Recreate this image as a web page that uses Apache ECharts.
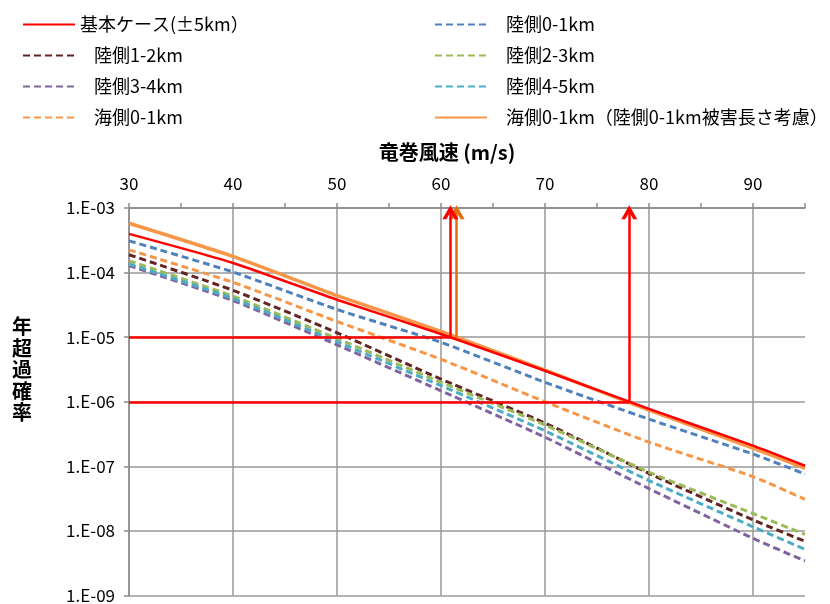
<!DOCTYPE html>
<html>
<head>
<meta charset="utf-8">
<script src="https://cdn.jsdelivr.net/npm/echarts@6/dist/echarts.min.js"></script>
<style>html,body{margin:0;padding:0;background:#fff}#c{width:830px;height:604px}</style>
</head>
<body>
<div id="c"></div>
<script>
// wind speed (m/s)
const speeds = [30, 40, 50, 60, 70, 80, 90, 95];
// annual exceedance probability per series
const baseCase   = [3.98e-4, 1.41e-4, 3.80e-5, 1.12e-5, 3.02e-6, 7.76e-7, 2.09e-7, 1.02e-7];
const land01     = [3.10e-4, 1.02e-4, 2.68e-5, 8.32e-6, 2.00e-6, 5.37e-7, 1.55e-7, 7.59e-8];
const land12     = [1.89e-4, 5.32e-5, 1.17e-5, 2.24e-6, 4.68e-7, 7.76e-8, 1.48e-8, 6.92e-9];
const land23     = [1.52e-4, 4.31e-5, 9.55e-6, 2.00e-6, 4.37e-7, 8.13e-8, 1.86e-8, 8.83e-9];
const land34     = [1.28e-4, 3.69e-5, 7.59e-6, 1.48e-6, 2.82e-7, 4.52e-8, 7.67e-9, 3.43e-9];
const land45     = [1.36e-4, 3.96e-5, 8.51e-6, 1.77e-6, 3.55e-7, 6.03e-8, 1.16e-8, 5.19e-9];
const sea01      = [2.25e-4, 7.06e-5, 1.75e-5, 4.55e-6, 1.00e-6, 2.37e-7, 6.92e-8, 3.09e-8];
const sea01Land  = [5.81e-4, 1.78e-4, 4.41e-5, 1.23e-5, 3.09e-6, 7.41e-7, 1.91e-7, 9.33e-8];

// names
const N_BASE = '基本ケース(±5km）';
const N_L01 = '陸側0-1km', N_L12 = '陸側1-2km', N_L23 = '陸側2-3km', N_L34 = '陸側3-4km', N_L45 = '陸側4-5km';
const N_S01 = '海側0-1km', N_S01L = '海側0-1km（陸側0-1km被害長さ考慮）';

// guide lines: probability levels and speeds where they are reached
const levelA = 1e-5, levelB = 1e-6;
const speedBaseA = 60.9, speedSeaA = 61.5, speedBaseB = 78.1;
const arrowTop = 8.6e-4;
const xMin = 30, xMax = 95;

const FONT = "'Noto Sans CJK JP', 'Noto Sans', sans-serif";
const pts = arr => speeds.map((s, i) => [s, arr[i]]);
const chevron = 'path://M0,13 L8,0 L16,13 L12,13 L8,6.5 L4,13 Z';

function lineSeries(name, data, color, dashed, width, z) {
  return {
    name, type: 'line', data: pts(data), symbol: 'none', smooth: 0.2, z: z || 2,
    lineStyle: { color, width: width || 3, type: dashed ? [7, 4] : 'solid', cap: 'butt' },
    itemStyle: { color }, emphasis: { disabled: true }
  };
}

const chart = echarts.init(document.getElementById('c'), null, { renderer: 'canvas' });
const pad = { padding: [0, 0, 0, 14] };
const legendCommon = {
  orient: 'vertical', top: 9, itemWidth: 52, itemHeight: 14, itemGap: 10,
  textStyle: { fontSize: 18, color: '#000', fontFamily: FONT, lineHeight: 21 },
  itemStyle: { opacity: 0 },
  selectedMode: false
};
chart.setOption({
  backgroundColor: '#fff',
  animation: false,
  textStyle: { fontFamily: FONT },
  legend: [
    Object.assign({}, legendCommon, {
      left: 17,
      data: [{ name: N_BASE }, { name: N_L12, textStyle: pad }, { name: N_L34, textStyle: pad }, { name: N_S01, textStyle: pad }]
    }),
    Object.assign({}, legendCommon, {
      left: 429,
      data: [{ name: N_L01, textStyle: pad }, { name: N_L23, textStyle: pad }, { name: N_L45, textStyle: pad }, { name: N_S01L, textStyle: pad }]
    })
  ],
  grid: { left: 129, right: 25, top: 208, bottom: 7, containLabel: false },
  xAxis: {
    type: 'value', position: 'top', min: xMin, max: xMax, interval: 10,
    name: '竜巻風速 (m/s)', nameLocation: 'middle', nameGap: 46,
    nameTextStyle: { fontSize: 20, fontWeight: 'bold', color: '#000', fontFamily: FONT, padding: [0, 40, 0, 0] },
    axisLine: { show: true, lineStyle: { color: '#8c8c8c', width: 1.5 } },
    axisTick: { show: true, length: 5, lineStyle: { color: '#8c8c8c', width: 1.5 } },
    minorTick: { show: true, splitNumber: 2, length: 5, lineStyle: { color: '#8c8c8c', width: 1.5 } },
    axisLabel: { fontSize: 17, color: '#000', margin: 16, fontFamily: FONT, formatter: v => (v % 10 === 0 ? String(v) : '') },
    splitLine: { show: true, showMaxLine: false, lineStyle: { color: '#999', width: 1.5 } }
  },
  yAxis: {
    type: 'log', logBase: 10, min: 1e-9, max: 1e-3, interval: 1,
    name: '年\n超\n過\n確\n率\n \n \n ', nameLocation: 'middle', nameRotate: 0, nameGap: 97,
    nameTextStyle: { fontSize: 20, fontWeight: 'bold', color: '#000', lineHeight: 21.5, fontFamily: FONT },
    axisLine: { show: true, lineStyle: { color: '#8c8c8c', width: 1.5 } },
    axisTick: { show: true, length: 5, lineStyle: { color: '#8c8c8c', width: 1.5 } },
    axisLabel: {
      fontSize: 17, color: '#000', margin: 14, fontFamily: FONT,
      formatter: v => { const e = Math.round(Math.log10(v)); return '1.E' + (e < 0 ? '-' : '+') + String(Math.abs(e)).padStart(2, '0'); }
    },
    splitLine: { show: true, lineStyle: { color: '#999', width: 1.5 } }
  },
  series: [
    lineSeries(N_S01L, sea01Land, '#F79646', false, 3.5, 2),
    lineSeries(N_L01, land01, '#4F81BD', true, 3),
    lineSeries(N_L12, land12, '#632523', true, 3),
    lineSeries(N_L23, land23, '#9BBB59', true, 3),
    lineSeries(N_L34, land34, '#8064A2', true, 3),
    lineSeries(N_L45, land45, '#4BACC6', true, 3),
    lineSeries(N_S01, sea01, '#F79646', true, 3),
    lineSeries(N_BASE, baseCase, '#FF0000', false, 2.5, 4),
    {
      name: 'guides', type: 'line', data: [], symbol: 'none', z: 5, silent: true,
      markLine: {
        silent: true, animation: false, label: { show: false }, emphasis: { disabled: true },
        symbol: ['none', 'none'],
        data: [
          [{ coord: [xMin, levelA], lineStyle: { color: '#FF0000', width: 2.5, type: 'solid' } }, { coord: [speedBaseA, levelA] }],
          [{ coord: [xMin, levelB], lineStyle: { color: '#FF0000', width: 2.5, type: 'solid' } }, { coord: [speedBaseB, levelB] }],
          [{ coord: [speedSeaA, levelA], symbol: 'none', lineStyle: { color: '#E46C0A', width: 2.5, type: 'solid' } }, { coord: [speedSeaA, arrowTop], symbol: chevron, symbolSize: [16, 14] }],
          [{ coord: [speedBaseA, levelA], symbol: 'none', lineStyle: { color: '#FF0000', width: 2.5, type: 'solid' } }, { coord: [speedBaseA, arrowTop], symbol: chevron, symbolSize: [16, 14] }],
          [{ coord: [speedBaseB, levelB], symbol: 'none', lineStyle: { color: '#FF0000', width: 2.5, type: 'solid' } }, { coord: [speedBaseB, arrowTop], symbol: chevron, symbolSize: [16, 14] }]
        ]
      }
    }
  ]
});
</script>
</body>
</html>
